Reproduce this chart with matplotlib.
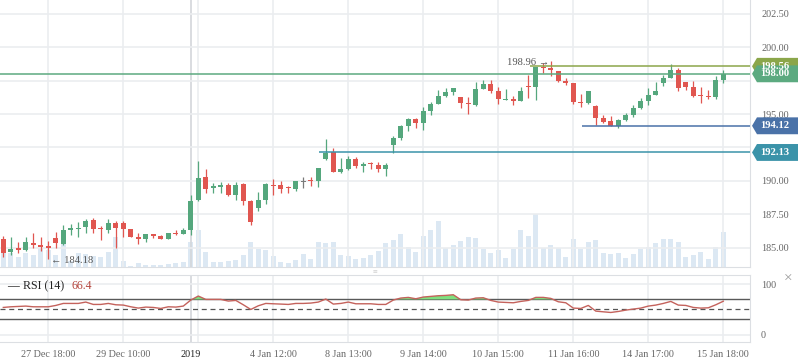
import numpy as np
import matplotlib
matplotlib.use("Agg")
import matplotlib.pyplot as plt
from matplotlib.patches import Polygon
from matplotlib.transforms import blended_transform_factory

plt.rcParams['font.family'] = ['Liberation Serif', 'DejaVu Sans']

# ---- candle data ----
opens = [185.64, 184.67, 185.02, 184.87, 185.39, 185.25, 185.15, 185.74, 185.30, 186.34,
         186.39, 186.54, 187.09, 186.49, 186.34, 186.89, 186.87, 186.42, 185.82, 185.70,
         186.05, 185.90, 185.70, 186.12, 186.07, 186.37, 188.58, 190.30, 189.48, 189.58,
         189.70, 188.96, 189.78, 188.51, 188.01, 188.58, 189.70, 189.68, 189.55, 189.43,
         189.95, 190.10, 190.00, 191.67, 192.16, 190.67, 190.87, 191.64, 191.14, 191.32,
         191.19, 190.89, 192.69, 193.23, 194.10, 194.63, 194.35, 195.25, 195.77, 196.37,
         196.64, 196.27, 195.82, 195.67, 196.89, 197.24, 196.72, 196.07, 196.12, 196.00,
         197.11, 197.04, 198.48, 198.46, 198.18, 197.46, 197.31, 195.92, 195.85, 195.60,
         194.70, 194.48, 194.10, 194.55, 194.93, 195.45, 195.97, 196.42, 197.31, 197.69,
         198.28, 197.39, 197.01, 196.44, 196.37, 196.29, 197.54]
highs = [185.89, 185.79, 185.42, 185.79, 186.14, 185.79, 185.54, 186.19, 186.71, 186.76,
         186.96, 187.14, 187.26, 186.64, 187.14, 187.01, 187.04, 186.45, 186.09, 186.05,
         186.07, 185.97, 186.12, 186.34, 186.49, 188.96, 191.49, 190.89, 189.88, 189.92,
         189.88, 189.92, 189.88, 188.55, 189.20, 189.88, 190.15, 190.00, 189.63, 190.00,
         190.27, 190.30, 190.97, 193.13, 192.44, 191.71, 191.86, 191.79, 191.42, 191.42,
         191.39, 191.37, 193.36, 194.18, 194.73, 194.73, 195.50, 195.90, 196.79, 196.92,
         196.94, 196.27, 196.27, 197.39, 197.54, 197.54, 196.99, 196.89, 196.34, 196.99,
         197.91, 198.53, 198.83, 198.96, 198.18, 197.69, 197.31, 196.49, 196.72, 195.67,
         194.90, 194.83, 194.63, 195.10, 195.67, 196.19, 196.94, 197.39, 197.91, 198.73,
         198.43, 197.39, 197.46, 197.01, 196.79, 197.84, 198.28]
lows = [184.30, 184.47, 184.65, 184.80, 184.99, 184.80, 184.18, 184.99, 185.22, 185.97,
        185.84, 186.09, 186.09, 185.59, 186.14, 185.02, 185.85, 185.82, 185.32, 185.47,
        185.77, 185.70, 185.70, 185.94, 186.05, 185.97, 188.53, 189.13, 189.13, 189.13,
        188.91, 188.58, 188.21, 186.72, 187.79, 188.28, 188.98, 189.13, 189.13, 189.28,
        189.50, 189.65, 189.58, 191.59, 190.69, 190.62, 190.82, 190.99, 190.69, 190.89,
        190.69, 190.40, 192.06, 193.06, 193.76, 193.96, 193.83, 194.93, 195.77, 196.29,
        196.44, 195.47, 195.00, 195.62, 196.89, 196.59, 195.72, 196.07, 195.67, 196.00,
        196.22, 196.04, 198.09, 197.84, 197.36, 197.14, 195.75, 195.55, 195.75, 194.18,
        194.33, 194.10, 193.95, 194.48, 194.78, 195.37, 195.67, 196.42, 197.09, 197.69,
        196.74, 196.82, 196.27, 195.85, 196.14, 196.14, 197.34]
closes = [184.65, 184.92, 184.85, 185.44, 185.22, 185.07, 184.99, 185.37, 186.34, 186.51,
          186.44, 187.04, 186.39, 186.41, 186.89, 186.51, 186.42, 185.85, 185.70, 186.05,
          185.90, 185.70, 186.12, 186.07, 186.34, 188.51, 190.22, 189.40, 189.63, 189.70,
          188.96, 189.70, 188.53, 186.96, 188.58, 189.78, 189.65, 189.43, 189.45, 190.00,
          189.95, 190.00, 190.97, 192.06, 190.69, 190.87, 191.64, 191.14, 191.29, 191.25,
          190.89, 191.19, 193.18, 194.10, 194.63, 194.35, 195.22, 195.77, 196.34, 196.67,
          196.94, 195.85, 195.72, 196.87, 197.24, 196.74, 196.09, 196.14, 196.00, 196.72,
          197.04, 198.48, 198.43, 198.28, 197.46, 197.29, 195.90, 195.85, 196.72, 194.73,
          194.40, 194.10, 194.55, 194.93, 195.45, 195.97, 196.42, 196.72, 197.69, 198.28,
          196.97, 197.04, 196.34, 196.37, 196.29, 197.54, 198.00]
volumes = [18.7, 13.7, 9.7, 14.3, 12, 18.7, 17, 12, 23.7, 6,
           14.3, 13, 11, 9.7, 15.3, 30.3, 6.3, 1.5, 4.5, 1.7,
           2, 2, 2.7, 3.7, 5.3, 25.3, 37, 15.3, 5.3, 5.3,
           6.3, 7, 12, 25, 18.5, 17, 11, 5.3, 3.7, 7,
           13, 8, 25, 24, 25, 12, 11, 8, 9, 12,
           16, 24, 27, 33, 19.7, 15, 31, 37, 46, 19,
           22, 26, 30, 29, 18.3, 14, 17, 9, 18, 37,
           31, 53, 19, 22, 19, 10, 28, 18, 25, 27,
           14, 13, 14, 9, 13, 18, 20, 24, 28, 28,
           25, 10, 12, 15, 8, 20, 35]
rsi = [54.0, 55.3, 56.0, 56.7, 55.3, 55.3, 55.3, 58.0, 62.0, 62.0,
       62.0, 64.7, 60.0, 60.0, 62.0, 59.3, 58.7, 55.3, 52.7, 54.7,
       54.0, 52.0, 55.3, 54.7, 56.7, 68.7, 76.7, 70.0, 70.0, 70.0,
       66.7, 68.0, 59.3, 50.0, 57.3, 62.0, 61.3, 60.7, 60.0, 62.0,
       62.0, 62.7, 64.7, 70.7, 60.7, 62.0, 64.7, 61.3, 61.3, 61.3,
       60.0, 60.0, 68.7, 72.7, 74.0, 71.3, 74.7, 76.0, 77.3, 78.0,
       79.3, 69.3, 68.7, 72.7, 73.3, 68.0, 64.7, 64.0, 63.3, 66.0,
       68.0, 74.0, 74.0, 72.0, 65.3, 63.3, 52.7, 52.0, 58.0, 46.7,
       45.3, 44.0, 46.0, 48.7, 50.7, 52.7, 56.7, 58.7, 62.0, 66.0,
       58.7, 58.0, 54.0, 52.7, 53.3, 59.3, 66.4]

tick_pos = [6, 16, 25, 36, 46, 56, 66, 76, 86, 96]
tick_labels = ["27 Dec 18:00", "29 Dec 10:00", "2019", "4 Jan 12:00", "8 Jan 13:00",
               "9 Jan 14:00", "10 Jan 15:00", "11 Jan 16:00", "14 Jan 17:00", "15 Jan 18:00"]

# price levels: value, start index, colour
level_vals = [198.56, 198.00, 194.12, 192.13]
level_start = [70.2, -1, 77.2, 42.1]
level_cols = ['#8ba64a', '#5caa80', '#4a72a8', '#3b93a9']

up_col, dn_col, flat_col = '#55a77d', '#e05650', '#7a7a7a'
grid_col = '#ebedf0'
edge_col = '#dcdfe3'

x = np.arange(len(opens))
o = np.array(opens); c = np.array(closes)
h = np.array(highs); l = np.array(lows)
cols = [up_col if cc > oo else (dn_col if cc < oo else flat_col) for oo, cc in zip(o, c)]

fig = plt.figure(figsize=(7.98, 3.63), dpi=100)
ax = fig.add_axes([0, 1 - 267 / 363, 750 / 798, 267 / 363])
ax_r = fig.add_axes([0, 1 - 342 / 363, 750 / 798, 67 / 363], sharex=ax)
ax_v = ax.twinx()
ax.set_zorder(ax_v.get_zorder() + 1)
ax.patch.set_visible(False)

xmin, xmax = -0.44, 99.56
ax.set_xlim(xmin, xmax)
ax.set_ylim(183.58, 203.51)

# volume
ax_v.bar(x, volumes, width=0.68, color='#dce8f3', zorder=1)
ax_v.set_ylim(0, 267)
ax_v.axis('off')

# candles
ax.vlines(x, l, h, colors=cols, lw=0.9, zorder=3)
body_lo = np.minimum(o, c)
body_h = np.maximum(np.abs(c - o), 0.07)
ax.bar(x, body_h, bottom=body_lo, width=0.64, color=cols, zorder=4)

# grid; labels that sit under the price tags are left blank
yt = np.arange(185, 203, 2.5)
ax.set_yticks(yt)
ax.set_yticklabels(["" if v in (192.5, 197.5) else f"{v:.2f}" for v in yt])
ax.set_xticks(tick_pos)
ax.grid(True, color=grid_col, lw=1.2, zorder=0)
ax.get_xgridlines()[2].set_color('#d3d6da')
ax.axvline(26, color=grid_col, lw=1.2, zorder=0)
ax.yaxis.tick_right()
ax.tick_params(axis='both', length=0)
ax.tick_params(axis='y', pad=8, labelsize=7.3, labelcolor='#666666')
ax.tick_params(axis='x', labelbottom=False)
for s in ['top', 'left']:
    ax.spines[s].set_visible(False)
for s in ['bottom', 'right']:
    ax.spines[s].set_color(edge_col)

# price level lines and tags
tr = blended_transform_factory(ax.transAxes, ax.transData)
for val, st, col in zip(level_vals, level_start, level_cols):
    ax.hlines(val, max(st, xmin), xmax, color=col, lw=1.1, zorder=5)
for val, col in zip(level_vals, level_cols):
    hh = 0.63
    pts = [(1.0027, val), (1.0093, val + hh), (1.064, val + hh), (1.064, val - hh), (1.0093, val - hh)]
    ax.add_patch(Polygon(pts, closed=True, transform=tr, facecolor=col, edgecolor='none',
                         clip_on=False, zorder=20))
    ax.text(1.0335, val, f"{val:.2f}", transform=tr, ha='center', va='center', color='white',
            fontsize=7.6, fontweight='bold', clip_on=False, zorder=21)

# high / low markers
ax.text(72.75, 198.86, "198.96 \u2192", ha='right', va='center', fontsize=7.6, color='#555555', zorder=6)
ax.text(6.35, 184.1, "\u2190 184.18", ha='left', va='center', fontsize=7.6, color='#555555', zorder=6)

# RSI pane
ax_r.set_ylim(-14.8, 118.6)
ax_r.plot(x, rsi, color='#c4625c', lw=1.0, zorder=4)
r = np.array(rsi)
ax_r.fill_between(x, 70, r, where=r > 70, interpolate=True, color='#7fe07f', lw=0, zorder=3)
ax_r.axhline(70, color='#595959', lw=1.0, zorder=2)
ax_r.axhline(30, color='#595959', lw=1.0, zorder=2)
ax_r.axhline(50, color='#555555', lw=0.9, ls=(0, (4, 3)), zorder=2)
ax_r.set_yticks([0, 100])
ax_r.set_yticklabels(['0', '100'])
ax_r.yaxis.tick_right()
ax_r.set_xticks(tick_pos)
ax_r.set_xticklabels(tick_labels)
ax_r.grid(True, color=grid_col, lw=1.2, zorder=0)
ax_r.get_xgridlines()[2].set_color('#d3d6da')
ax_r.axvline(26, color=grid_col, lw=1.2, zorder=0)
ax_r.tick_params(axis='both', length=0, labelsize=7.3, labelcolor='#666666')
ax_r.tick_params(axis='y', pad=8)
ax_r.tick_params(axis='x', pad=6)
ax_r.get_xticklabels()[2].set_color('#222222')
ax_r.spines['left'].set_visible(False)
for s in ['top', 'bottom', 'right']:
    ax_r.spines[s].set_color(edge_col)

# pane header and small controls
fig.text(7 / 798, 1 - 286 / 363, "\u2014", fontsize=8.5, color='#111111', va='center', ha='left')
fig.text(23 / 798, 1 - 286 / 363, "RSI (14)", fontsize=8.6, color='#222222', va='center', ha='left')
fig.text(71 / 798, 1 - 286 / 363, f"{rsi[-1]:.1f}", fontsize=8.6, color='#b5473f', va='center', ha='left')
fig.text(788 / 798, 1 - 279 / 363, "\u00d7", fontsize=11, color='#9a9a9a', va='center', ha='center')
fig.text(375 / 798, 1 - 271 / 363, "\u2261", fontsize=6, color='#c8c8c8', va='center', ha='center')

fig.savefig("out.png", dpi=100)
